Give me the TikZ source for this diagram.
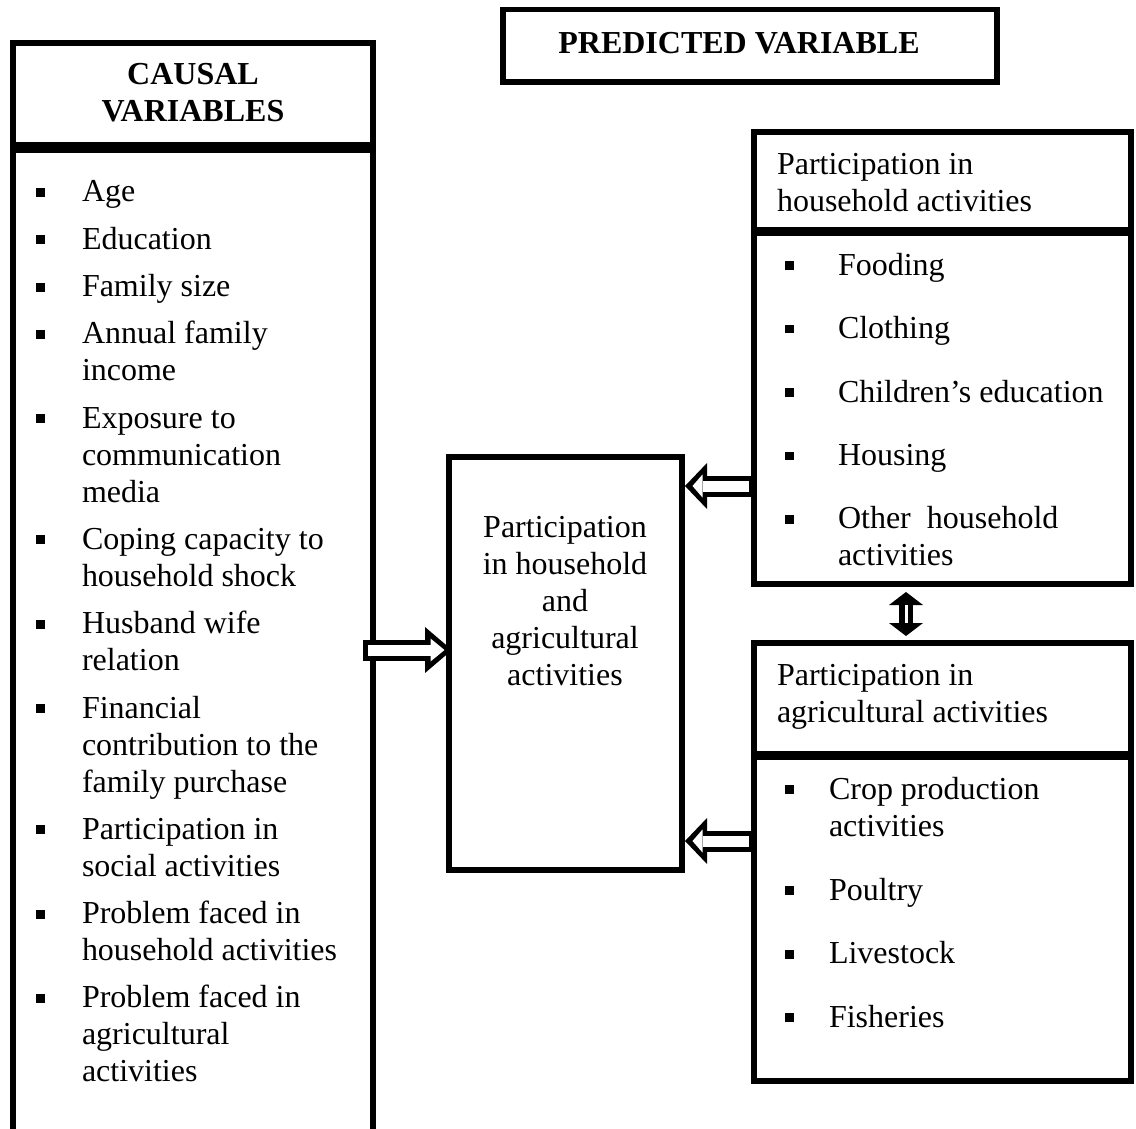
\documentclass[tikz,border=0pt]{standalone}
\usepackage{fontspec}
\setmainfont{Liberation Serif}
\usetikzlibrary{arrows.meta,calc}

\newcommand{\sqb}{\rule[5pt]{9pt}{9pt}}

\tikzset{
  box/.style={draw, line width=5.5pt, inner sep=0pt, outer sep=0pt},
  txt/.style={inner sep=0pt, outer sep=0pt},
  fatout/.style={line width=21pt, -{Triangle[length=#1,width=46pt,line width=0pt]}},
  fatin/.style={white, line width=11pt, shorten <=5pt, shorten >=7.5pt,
                -{Triangle[length=#1,width=23pt,line width=0pt]}},
}

\begin{document}
\begin{tikzpicture}[x=1pt, y=-1pt,
                    every node/.append style={font=\fontsize{32}{37}\selectfont}]
\useasboundingbox (0,0) rectangle (1136,1129);
\clip (0,0) rectangle (1136,1129);

% boxes
\node[box, anchor=north west, minimum width=360pt, minimum height=102pt]  (causalhead) at (13,43) {};
\node[box, anchor=north west, minimum width=360pt, minimum height=1060pt] (causallist) at (13,150.5) {};
\node[box, anchor=north west, minimum width=494pt, minimum height=72.5pt] (predicted)  at (503,9.5) {};
\node[box, anchor=north west, minimum width=233pt, minimum height=413pt]  (particip)   at (449,457) {};
\node[box, anchor=north west, minimum width=377pt, minimum height=98pt]   (hhhead)     at (754,132) {};
\node[box, anchor=north west, minimum width=377pt, minimum height=351pt]  (hhlist)     at (754,233) {};
\node[box, anchor=north west, minimum width=377pt, minimum height=111pt]  (aghead)     at (754,643) {};
\node[box, anchor=north west, minimum width=377pt, minimum height=324pt]  (aglist)     at (754,757) {};

% texts
\node[txt, anchor=base] (causaltext) at (193,85)
  {\bfseries\begin{tabular}[t]{@{}c@{}}CAUSAL\\VARIABLES\end{tabular}};
\node[txt, anchor=base] (predtext) at (739,54) {\bfseries PREDICTED VARIABLE};
\node[txt, anchor=base] (partictext) at (565,537)
  {\begin{tabular}[t]{@{}c@{}}Participation\\in household\\and\\agricultural\\activities\end{tabular}};
\node[txt, anchor=base west] (hhtext) at (777,175)
  {\begin{tabular}[t]{@{}l@{}}Participation in\\household activities\end{tabular}};
\node[txt, anchor=base west] (agtext) at (777,685)
  {\begin{tabular}[t]{@{}l@{}}Participation in\\agricultural activities\end{tabular}};

\node[txt, anchor=base west] (causalitems) at (36,202) {%
  \begin{tabular}[t]{@{}l@{\hspace{37pt}}l@{}}
  \sqb & Age \\[10.3pt]
  \sqb & Education \\[10.3pt]
  \sqb & Family size \\[10.3pt]
  \sqb & Annual family \\ & income \\[10.3pt]
  \sqb & Exposure to \\ & communication \\ & media \\[10.3pt]
  \sqb & Coping capacity to \\ & household shock \\[10.3pt]
  \sqb & Husband wife \\ & relation \\[10.3pt]
  \sqb & Financial \\ & contribution to the \\ & family purchase \\[10.3pt]
  \sqb & Participation in \\ & social activities \\[10.3pt]
  \sqb & Problem faced in \\ & household activities \\[10.3pt]
  \sqb & Problem faced in \\ & agricultural \\ & activities
  \end{tabular}};
\node[txt, anchor=base west] (hhitems) at (785,275) {%
  \begin{tabular}[t]{@{}l@{\hspace{44pt}}l@{}}
  \sqb & Fooding \\[26.5pt]
  \sqb & Clothing \\[26.5pt]
  \sqb & Children’s education \\[26.5pt]
  \sqb & Housing \\[26.5pt]
  \sqb & Other\ \ household \\ & activities
  \end{tabular}};
\node[txt, anchor=base west] (agitems) at (785,799) {%
  \begin{tabular}[t]{@{}l@{\hspace{35pt}}l@{}}
  \sqb & Crop production \\ & activities \\[27pt]
  \sqb & Poultry \\[26.5pt]
  \sqb & Livestock \\[26.5pt]
  \sqb & Fisheries
  \end{tabular}};

% arrows
\draw[fatout=27pt] ($(causallist.east |- 0,650)+(-10,0)$) -- ($(particip.west |- 0,650)+(3,0)$);
\draw[fatin=14pt]  ($(causallist.east |- 0,650)+(-10,0)$) -- ($(particip.west |- 0,650)+(3,0)$);
\draw[fatout=22pt] (hhlist.west |- 0,486) -- ($(particip.east |- 0,486)+(3,0)$);
\draw[fatin=10pt]  (hhlist.west |- 0,486) -- ($(particip.east |- 0,486)+(3,0)$);
\draw[fatout=22pt] (aglist.west |- 0,841) -- ($(particip.east |- 0,841)+(3,0)$);
\draw[fatin=10pt]  (aglist.west |- 0,841) -- ($(particip.east |- 0,841)+(3,0)$);
\draw[line width=14pt, {Triangle[length=13pt,width=34pt,line width=0pt]}-{Triangle[length=13pt,width=34pt,line width=0pt]}]
  ($(hhlist.south -| 906,0)+(0,8)$) -- ($(aghead.north -| 906,0)+(0,-7)$);
\draw[white, line width=3pt, shorten <=13pt, shorten >=13pt]
  ($(hhlist.south -| 906,0)+(0,8)$) -- ($(aghead.north -| 906,0)+(0,-7)$);
\end{tikzpicture}
\end{document}
